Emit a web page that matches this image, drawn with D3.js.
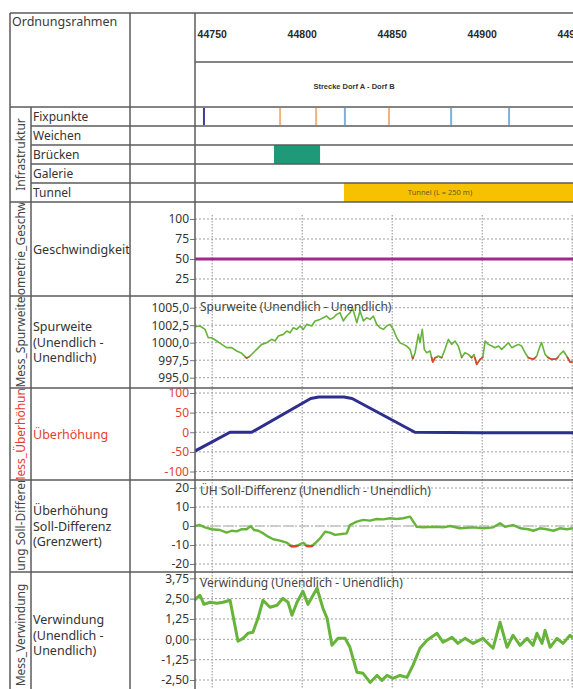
<!DOCTYPE html>
<html>
<head>
<meta charset="utf-8">
<script src="https://cdn.jsdelivr.net/npm/d3@7"></script>
<style>
  body { margin: 0; background: #fff; }
  svg { display: block; font-family: 'Noto Sans', sans-serif; }
</style>
</head>
<body>
<svg id="chart" width="573" height="689"></svg>
<script>
// ---- data (km positions in m) ----
const kmTicks = [44750, 44800, 44850, 44900, 44950];
const streckeName = 'Strecke Dorf A - Dorf B';
const infraLabels = ['Fixpunkte', 'Weichen', 'Brücken', 'Galerie', 'Tunnel'];

const fixpunktePos = [44745.7, 44788, 44808, 44824, 44848.5, 44883, 44915.2];
const fixpunkteArt = ['HFP', 'PSP', 'PSP', 'GVP', 'PSP', 'GVP', 'GVP'];
const brueckenVon = [44784.6];
const brueckenBis = [44810.2];
const tunnelVon = [44823.5];
const tunnelLaenge = [250];

const geschwTicks = [25, 50, 75, 100];
const geschwPos = [44735, 44960];
const geschwVal = [50, 50];

const spurTicks = [995, 997.5, 1000, 1002.5, 1005];
const spurPos = [44740.7, 44743.5, 44746.3, 44748.1, 44750, 44752.8, 44755.6, 44758.3, 44761.1, 44763.9,
  44766.7, 44769.4, 44771.3, 44773.1, 44775, 44777.8, 44780.6, 44783.3, 44785.2, 44787,
  44789.8, 44791.7, 44793.5, 44795.4, 44797.2, 44799.1, 44800.9, 44802.8, 44805.6, 44807.4,
  44810.2, 44812, 44813.9, 44815.7, 44817.6, 44819.4, 44821.3, 44823.1, 44825, 44826.9,
  44828.1, 44829.3, 44830.6, 44832.4, 44834.3, 44836.1, 44838, 44839.8, 44841.7, 44843.5,
  44845.4, 44847.2, 44849.1, 44850.9, 44852.8, 44854.6, 44856.5, 44858.3, 44860.2, 44861.7,
  44863, 44864.8, 44865.7, 44867, 44868.1, 44869.4, 44871.3, 44872.8, 44874.1, 44875.9,
  44877.8, 44879.6, 44881.5, 44883.3, 44885.2, 44887, 44888.9, 44890.7, 44892.6, 44894.4,
  44895.7, 44897.2, 44899.1, 44900.6, 44901.9, 44903.7, 44905.6, 44907.4, 44909.3, 44911.1,
  44913, 44914.8, 44916.7, 44918.5, 44920.4, 44922.2, 44924.1, 44925.9, 44928.7, 44930.6,
  44932.4, 44933.3, 44935.2, 44937, 44938.9, 44941.7, 44943.5, 44945.4, 44947.2, 44949.1, 44950.7];
const spurVal = [1002.29, 1002.38, 1001.9, 1000.71, 1000.71, 1000.24, 999.76, 999.29, 999.29, 998.81,
  998.48, 997.8, 998.1, 998.57, 999.05, 999.76, 1000.0, 1000.48, 1000.24, 1000.95,
  1001.19, 1001.67, 1001.43, 1002.14, 1001.9, 1002.38, 1001.9, 1002.62, 1002.38, 1003.1,
  1003.33, 1003.57, 1003.81, 1003.33, 1003.57, 1004.05, 1004.29, 1003.1, 1003.81, 1004.29,
  1005.0, 1004.05, 1002.86, 1004.52, 1003.1, 1003.57, 1003.33, 1003.81, 1002.62, 1002.14,
  1001.9, 1002.38, 1002.62, 1001.9, 1000.71, 1000.0, 999.76, 999.52, 999.05, 997.71,
  998.57, 1001.19, 1000.0, 1001.9, 999.05, 998.57, 998.81, 997.24, 997.86, 998.1,
  997.86, 999.05, 1000.48, 999.76, 1000.24, 999.52, 997.9, 998.57, 998.33, 997.86,
  998.33, 996.9, 997.62, 997.9, 1000.24, 999.76, 999.52, 999.29, 999.52, 999.05,
  999.52, 1000.0, 999.29, 999.52, 999.76, 999.52, 998.57, 997.86, 997.62, 998.1,
  999.52, 1000.0, 998.33, 997.86, 997.62, 997.71, 998.33, 998.81, 998.1, 997.24, 997.24];

const uehTicks = [-100, -50, 0, 50, 100];
const uehPos = [44740.7, 44760.2, 44772.2, 44805, 44809.5, 44823.5, 44828, 44862.9, 44900, 44950.7];
const uehVal = [-48, 0, 0, 86, 90, 90, 86, 0, -1, -1];

const diffTicks = [-20, -10, 0, 10, 20];
const diffPos = [44740.2, 44743.5, 44746.3, 44750, 44754.6, 44758.3, 44761.1, 44763.9, 44766.7, 44769.4,
  44771.7, 44773.5, 44775.9, 44778.7, 44781.4, 44784.2, 44787.9, 44791.7, 44794.4, 44797.2,
  44800.9, 44802.8, 44805.6, 44807.4, 44810.2, 44813, 44815.7, 44818.5, 44822.2, 44825,
  44826.8, 44830.6, 44834.2, 44837.9, 44841.7, 44845.3, 44849.1, 44852.8, 44856.4, 44860.2,
  44862, 44863.9, 44867.6, 44873.1, 44878.7, 44882.4, 44888, 44895.3, 44900.9, 44906.4,
  44910.2, 44912.9, 44917.6, 44921.3, 44925.9, 44928.7, 44932.4, 44936.1, 44939.8, 44943.5,
  44947.2, 44950.7];
const diffVal = [0, 0.5, -0.7, -1.7, -2.1, -3.5, -2.5, -2.8, -1.7, -1.7,
  0, -2.1, -2.5, -3.9, -5.6, -7.0, -7.7, -8.8, -10.7, -10.5,
  -8.8, -10.5, -10.5, -9.1, -6.5, -3.0, -3.5, -4.7, -4.2, -3.9,
  0.5, 2.3, 3.2, 2.8, 3.7, 3.5, 4.1, 3.7, 4.1, 4.9,
  2.3, -0.4, -0.7, -0.4, -0.7, 0, -1.2, -0.7, -1.2, -0.7,
  1.4, -0.4, 0.5, -1.2, -1.7, -2.5, -1.2, -1.7, -2.5, -1.2,
  -1.7, -1.2];

const verwTicks = [-2.5, -1.25, 0, 1.25, 2.5, 3.75];
const verwPos = [44740.3, 44743.5, 44745.7, 44749.1, 44752.9, 44756.3, 44760.2, 44761.8, 44764.6, 44767.4,
  44770.2, 44772.9, 44775.7, 44778.5, 44782.4, 44786.3, 44789.6, 44792.4, 44794.6, 44797.4,
  44800.7, 44803.5, 44808.5, 44811.8, 44814.1, 44816.8, 44820.2, 44824.1, 44826.8, 44830.7,
  44834.1, 44838, 44841.8, 44844.6, 44847.4, 44850.7, 44854.6, 44858.5, 44861.8, 44865.7,
  44869.6, 44875.2, 44878.5, 44883.5, 44886.8, 44890.7, 44895.2, 44900.7, 44906.3, 44910.2,
  44914.1, 44917.4, 44921.3, 44925.2, 44928.5, 44930.7, 44933.5, 44935.2, 44938, 44941.8,
  44945.2, 44949.1, 44950.7];
const verwVal = [2.40, 2.71, 2.15, 2.28, 2.22, 2.28, 2.40, 1.48, -0.12, 0.06,
  0.37, 0.43, 1.29, 2.40, 1.97, 2.09, 2.52, 2.28, 1.48, 2.28,
  2.95, 2.15, 3.14, 1.91, 1.29, -0.37, 0.06, 0.06, -0.49, -2.03,
  -2.09, -2.65, -2.22, -2.52, -2.22, -2.40, -2.22, -2.34, -1.60, -0.55,
  -0.06, 0.37, -0.18, 0.12, -0.25, 0.06, -0.25, 0.06, -0.55, 1.05,
  -0.49, 0.25, -0.37, 0.06, -0.37, 0.37, -0.25, 0.55, -0.49, 0.06,
  -0.25, 0.25, 0.06];

// ---- layout ----
const W = 573, H = 689;
const colA = 10, colB = 31, colC = 130, colD = 195;
const headTop = 13, headMid = 62, headBottom = 107;
const infraTops = [107, 126, 145, 164, 183, 202];
const frameColor = '#5b5b5b';
const red = '#e5402f', green = '#66b43a';
const fixColor = { HFP: '#3c3c9c', PSP: '#f2b27a', GVP: '#7eb0de' };

const x = d3.scaleLinear().domain([44750, 44950]).range([211.7, 571.7]);
const de = d3.formatLocale({ decimal: ',', thousands: '.', grouping: [3], currency: ['', ' €'], minus: '-' });

const panels = [
  { top: 202, bottom: 296, group: 'Mess_Geometrie_Geschwindigkeit', groupAnchor: 'middle',
    label: ['Geschwindigkeit'], y: d3.scaleLinear().domain([25, 100]).range([279, 219]),
    ticks: geschwTicks, fmt: d => d, pos: geschwPos, val: geschwVal, color: '#a3278f', width: 3 },
  { top: 296, bottom: 388, group: 'Mess_Spurweite', groupAnchor: 'middle',
    label: ['Spurweite', '(Unendlich -', 'Unendlich)'], y: d3.scaleLinear().domain([995, 1005]).range([377.7, 307.7]),
    ticks: spurTicks, fmt: de.format('.1f'), pos: spurPos, val: spurVal, color: green, width: 1.6,
    title: 'Spurweite (Unendlich - Unendlich)', limit: 998 },
  { top: 388, bottom: 480, group: 'Mess_Überhöhung', groupAnchor: 'middle', red: true,
    label: ['Überhöhung'], y: d3.scaleLinear().domain([-100, 100]).range([471.5, 393]),
    ticks: uehTicks, fmt: d => d, pos: uehPos, val: uehVal, color: '#2e2e8e', width: 3 },
  { top: 480, bottom: 572, group: 'Mess_Überhöhung Soll-Differenz', groupAnchor: 'end',
    label: ['Überhöhung', 'Soll-Differenz', '(Grenzwert)'], y: d3.scaleLinear().domain([-20, 20]).range([564, 488]),
    ticks: diffTicks, fmt: d => d, pos: diffPos, val: diffVal, color: green, width: 2.4,
    title: 'ÜH Soll-Differenz  (Unendlich - Unendlich)', limit: -10, zeroLine: true },
  { top: 572, bottom: 720, group: 'Mess_Verwindung', groupAnchor: 'middle',
    label: ['Verwindung', '(Unendlich -', 'Unendlich)'], y: d3.scaleLinear().domain([-2.5, 3.75]).range([680, 578.3]),
    ticks: verwTicks, fmt: de.format('.2f'), pos: verwPos, val: verwVal, color: green, width: 3,
    title: 'Verwindung (Unendlich - Unendlich)', labelY: 635 }
];

const svg = d3.select('#chart');
const defs = svg.append('defs');
svg.append('rect').attr('width', W).attr('height', H).attr('fill', '#fff');

// vertical km grid through infra rows and panels
defs.append('clipPath').attr('id', 'plotClip').append('rect')
  .attr('x', colD).attr('y', headBottom).attr('width', W - colD).attr('height', H - headBottom);

svg.append('g')
  .attr('transform', `translate(0,${headBottom})`)
  .attr('clip-path', 'url(#plotClip)')
  .call(d3.axisBottom(x).tickValues(kmTicks).tickSize(H - headBottom).tickFormat(''))
  .call(g => g.select('.domain').remove())
  .call(g => g.selectAll('line').attr('stroke', '#8f8f8f').attr('stroke-dasharray', '1.5,1.5'));

// header
svg.append('text').attr('x', 12).attr('y', 26).attr('font-size', 12.5).attr('fill', '#3a3a3a').text('Ordnungsrahmen');

svg.append('g')
  .attr('transform', `translate(0,${headTop})`)
  .attr('clip-path', 'url(#headClip)')
  .call(d3.axisBottom(x).tickValues(kmTicks).tickSize(0).tickPadding(18).tickFormat(d3.format('d')))
  .call(g => g.select('.domain').remove())
  .call(g => g.selectAll('text')
    .attr('font-family', "'Liberation Sans', Arial, sans-serif")
    .attr('font-weight', 'bold').attr('font-size', 10.5).attr('fill', '#2a2a2a'));
defs.append('clipPath').attr('id', 'headClip').append('rect')
  .attr('x', colD).attr('y', -5).attr('width', W - colD).attr('height', 60);

svg.append('text').attr('x', 354).attr('y', 89).attr('text-anchor', 'middle')
  .attr('font-family', "'Liberation Sans', Arial, sans-serif")
  .attr('font-weight', 'bold').attr('font-size', 7.5).attr('fill', '#333').text(streckeName);

// infrastructure rows
const infraY = d3.scaleBand().domain(infraLabels).range([infraTops[0], infraTops[5]]);

svg.append('g').selectAll('text').data(infraLabels).join('text')
  .attr('x', colB + 2).attr('y', d => infraY(d) + infraY.bandwidth() / 2)
  .attr('dy', '0.36em').attr('font-size', 12).attr('fill', '#333').text(d => d);

const fixRow = infraY('Fixpunkte');
svg.append('g').selectAll('line').data(fixpunktePos).join('line')
  .attr('x1', d => x(d)).attr('x2', d => x(d))
  .attr('y1', fixRow + 1).attr('y2', fixRow + infraY.bandwidth() - 1)
  .attr('stroke', (d, i) => fixColor[fixpunkteArt[i]]).attr('stroke-width', 2);

svg.append('g').selectAll('rect').data(brueckenVon).join('rect')
  .attr('x', d => x(d)).attr('width', (d, i) => x(brueckenBis[i]) - x(d))
  .attr('y', infraY('Brücken')).attr('height', infraY.bandwidth())
  .attr('fill', '#1f9a79');

const tunnelG = svg.append('g').attr('clip-path', 'url(#plotClip)');
tunnelG.selectAll('rect').data(tunnelVon).join('rect')
  .attr('x', d => x(d)).attr('width', (d, i) => x(d + tunnelLaenge[i]) - x(d))
  .attr('y', infraY('Tunnel')).attr('height', infraY.bandwidth())
  .attr('fill', '#f6c200');
tunnelG.selectAll('text').data(tunnelVon).join('text')
  .attr('x', d => x(d) + 96).attr('y', infraY('Tunnel') + infraY.bandwidth() / 2)
  .attr('dy', '0.36em').attr('text-anchor', 'middle').attr('font-size', 7.5).attr('fill', '#6b5a20')
  .text((d, i) => `Tunnel (L = ${tunnelLaenge[i]} m)`);

svg.append('text')
  .attr('transform', `translate(${(colA + colB) / 2},${(infraTops[0] + infraTops[5]) / 2}) rotate(-90)`)
  .attr('text-anchor', 'middle').attr('dy', '0.36em').attr('font-size', 12).attr('fill', '#444')
  .text('Infrastruktur');

// measurement panels
const line = d3.line().x(d => x(d.m)).y(d => d.py);

panels.forEach((p, i) => {
  const g = svg.append('g');
  const bottom = Math.min(p.bottom, H);
  const plotId = 'panelClip' + i;
  defs.append('clipPath').attr('id', plotId).append('rect')
    .attr('x', colD).attr('y', p.top).attr('width', W - colD).attr('height', p.bottom - p.top);
  const groupId = 'groupClip' + i;
  defs.append('clipPath').attr('id', groupId).append('rect')
    .attr('x', colA).attr('y', p.top + 1).attr('width', colB - colA).attr('height', p.bottom - p.top - 2);

  const ink = p.red ? red : '#333';

  // horizontal grid
  g.append('g').selectAll('line').data(p.ticks).join('line')
    .attr('x1', colD).attr('x2', W)
    .attr('y1', d => p.y(d)).attr('y2', d => p.y(d))
    .attr('stroke', '#a0a0a0').attr('stroke-dasharray', '2,2');

  if (p.zeroLine) {
    g.append('line').attr('x1', colD).attr('x2', W)
      .attr('y1', p.y(0)).attr('y2', p.y(0))
      .attr('stroke', '#c4c4c4').attr('stroke-width', 1.5).attr('stroke-dasharray', '9,6');
  }

  // y axis
  g.append('g')
    .attr('transform', `translate(${colD},0)`)
    .call(d3.axisLeft(p.y).tickValues(p.ticks).tickSize(5).tickPadding(1).tickFormat(p.fmt))
    .call(a => a.select('.domain').remove())
    .call(a => a.selectAll('line').attr('stroke', '#777'))
    .call(a => a.selectAll('text').attr('font-family', "'Noto Sans', sans-serif")
      .attr('font-size', 12).attr('fill', ink));

  // series
  const pts = p.pos.map((m, k) => ({ m, py: p.y(p.val[k]) }));
  g.append('path').datum(pts)
    .attr('clip-path', `url(#${plotId})`)
    .attr('d', line).attr('fill', 'none')
    .attr('stroke', p.color).attr('stroke-width', p.width).attr('stroke-linejoin', 'round');

  if (p.limit !== undefined) {
    const redId = 'redClip' + i;
    defs.append('clipPath').attr('id', redId).append('rect')
      .attr('x', colD).attr('y', p.y(p.limit)).attr('width', W - colD).attr('height', p.bottom - p.y(p.limit));
    g.append('path').datum(pts)
      .attr('clip-path', `url(#${redId})`)
      .attr('d', line).attr('fill', 'none')
      .attr('stroke', red).attr('stroke-width', p.width).attr('stroke-linejoin', 'round');
  }

  if (p.title) {
    g.append('text').attr('x', 200).attr('y', p.top + 15)
      .attr('font-size', 12).attr('fill', '#444').text(p.title);
  }

  // row label
  const lh = 15.5;
  const cy = p.labelY || (p.top + bottom) / 2;
  g.append('g').selectAll('text').data(p.label).join('text')
    .attr('x', colB + 2)
    .attr('y', (d, k) => cy + (k - (p.label.length - 1) / 2) * lh)
    .attr('dy', '0.36em').attr('font-size', 12.5).attr('fill', ink).text(d => d);

  // group label (rotated, clipped to its cell)
  const gy = p.groupAnchor === 'end' ? p.top - 10 : (p.labelY || (p.top + bottom) / 2);
  g.append('g').attr('clip-path', `url(#${groupId})`)
    .append('text')
    .attr('transform', `translate(${(colA + colB) / 2},${gy}) rotate(-90)`)
    .attr('text-anchor', p.groupAnchor).attr('dy', '0.36em')
    .attr('font-size', 12).attr('fill', p.red ? red : '#444').text(p.group);
});

// frame
const frame = svg.append('g').attr('stroke', frameColor).attr('stroke-width', 1.5);
const hLines = [
  [colA, headTop], [colD, headMid], [colA, headBottom],
  [colB, infraTops[1]], [colB, infraTops[2]], [colB, infraTops[3]], [colB, infraTops[4]],
  ...panels.map(p => [colA, p.top])
];
frame.selectAll('line.h').data(hLines).join('line')
  .attr('x1', d => d[0]).attr('x2', W).attr('y1', d => d[1]).attr('y2', d => d[1]);
const vLines = [[colA, headTop], [colB, headBottom], [colC, headTop], [colD, headTop]];
frame.selectAll('line.v').data(vLines).join('line')
  .attr('x1', d => d[0]).attr('x2', d => d[0]).attr('y1', d => d[1]).attr('y2', H);
</script>
</body>
</html>
